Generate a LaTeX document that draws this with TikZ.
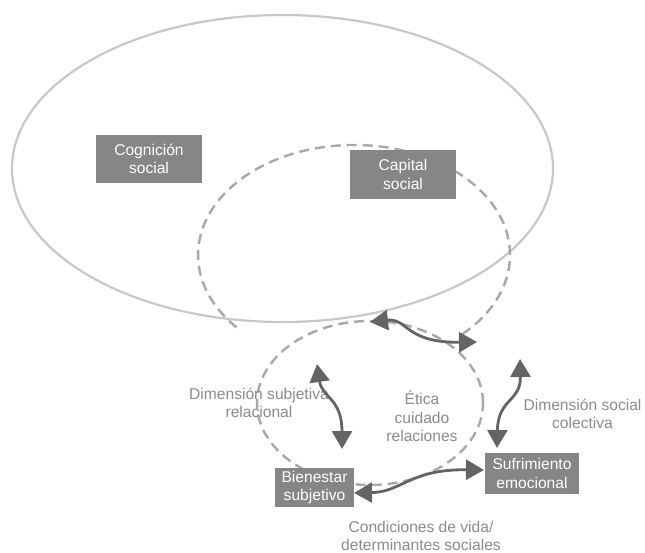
\documentclass[tikz,border=0pt]{standalone}
\usepackage{fontspec}
\setmainfont{Liberation Sans}
\usetikzlibrary{arrows.meta}
\definecolor{boxgray}{HTML}{858688}
\definecolor{arrowgray}{HTML}{636466}
\definecolor{labelgray}{HTML}{8A8B8D}
\definecolor{dashgray}{HTML}{A7A8AA}
\definecolor{biggray}{HTML}{C8C8C8}
\tikzset{
  txt/.style={font=\fontsize{15.6}{18.5}\selectfont, align=center},
  box/.style={txt, fill=boxgray, text=white, inner sep=0pt},
  lbl/.style={txt, text=labelgray, inner sep=0pt},
  dashline/.style={draw=dashgray, line width=2.4pt, dash pattern=on 10pt off 6pt},
  bigline/.style={draw=biggray, line width=2.2pt},
  darrow/.style={draw=arrowgray, line width=2.8pt,
    {Triangle[length=18pt,width=20pt]}-{Triangle[length=18pt,width=20pt]}}
}
\begin{document}
\begin{tikzpicture}[x=1pt,y=-1pt]
\useasboundingbox (0,0) rectangle (645,553);
% large solid ellipse
\draw[bigline] (282.5,168.5) ellipse [x radius=270.5pt, y radius=153.5pt];
% upper dashed (open) ellipse
\draw[dashline] (462.4,334.1) arc[start angle=-46, end angle=223, x radius=156pt, y radius=110pt];
% lower dashed ellipse
\draw[dashline] (370,403) ellipse [x radius=113pt, y radius=82pt];
% boxes
\node[box, minimum width=106pt, minimum height=48pt] (cog) at (149,159) {Cognición\\social};
\node[box, minimum width=106pt, minimum height=49pt] (cap) at (403,174.5) {Capital\\social};
\node[box, minimum width=79pt, minimum height=39pt] (bien) at (314.5,487.5) {Bienestar\\subjetivo};
\node[box, minimum width=94pt, minimum height=41pt] (sufr) at (532,473.5) {Sufrimiento\\emocional};
% labels
\node[lbl] (etica) at (422,416.5) {Ética\\cuidado\\relaciones};
\node[lbl] (dsr) at (259,403) {Dimensión subjetiva\\relacional};
\node[lbl] (dsc) at (582.5,414) {Dimensión social\\colectiva};
\node[lbl] (cond) at (421,536) {Condiciones de vida/\\determinantes sociales};
% arrow end points
\coordinate (a1s) at (370,322);
\coordinate (a1e) at (477,342);
\coordinate (a2s) at (317,364);
\coordinate (a2e) at (342,449);
\coordinate (a3s) at (520,359);
\coordinate (a3e) at (497,448);
\coordinate (a4s) at (354,493);
\coordinate (a4e) at (484,470);
% arrows
\draw[darrow] (a1s) .. controls (408,318) and (405,343) .. (a1e);
\draw[darrow] (a2s) .. controls (322,398) and (342,398) .. (a2e);
\draw[darrow] (a3s) .. controls (521,402) and (498,398) .. (a3e);
\draw[darrow] (a4s) .. controls (402,492) and (410,469) .. (a4e);
\end{tikzpicture}
\end{document}
